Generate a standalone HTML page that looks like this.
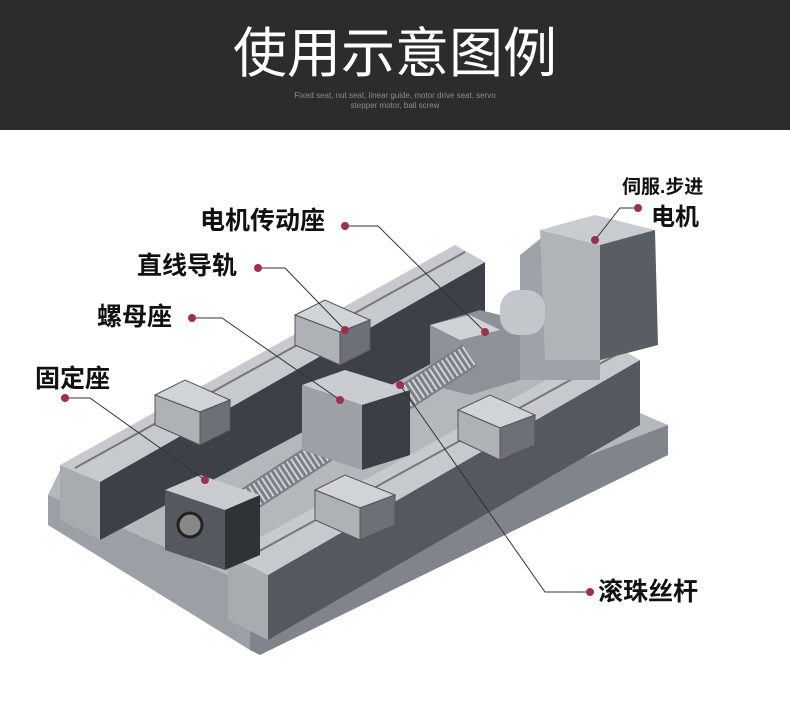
<!DOCTYPE html>
<html><head><meta charset="utf-8"><style>
html,body{margin:0;padding:0;background:#fff;}
body{width:790px;height:708px;position:relative;overflow:hidden;font-family:"Liberation Sans","Noto Sans CJK SC",sans-serif;}
.hdr{position:absolute;left:0;top:0;width:790px;height:130px;background:#2c2c2c;}
.t{position:absolute;left:0;width:790px;text-align:center;color:#fff;font-size:54px;top:22px;line-height:64px;}
.s{position:absolute;left:0;width:790px;text-align:center;color:#8a8a8a;font-size:8px;top:91px;line-height:10px;}
.l{position:absolute;font-weight:bold;color:#111;font-size:25px;line-height:28px;white-space:nowrap;}
</style></head><body>
<div class="hdr"><div class="t">使用示意图例</div><div class="s">Fixed seat, nut seat, linear guide, motor drive seat, servo<br>stepper motor, ball screw</div></div>
<svg width="790" height="708" style="position:absolute;left:0;top:0">
<!-- base -->
<polygon points="48,495 250,585 668,425 668,455 255,640 48,525" fill="#6b6f75"/>
<polygon points="48,495 250,585 250,650 48,525" fill="#9aa0a6"/>
<polygon points="250,585 668,425 668,455 260,655 250,650" fill="#80858b"/>
<polygon points="48,495 250,585 668,425 470,340 60,470" fill="#b4b8bd"/>
<!-- left rail block -->
<polygon points="60,465 100,482 100,540 60,520" fill="#a8acb1"/>
<polygon points="100,482 485,262 485,335 100,540" fill="#3d4147"/>
<polygon points="60,465 100,482 485,262 455,245" fill="#c6cacf"/>
<line x1="75" y1="468" x2="465" y2="252" stroke="#777" stroke-width="2"/>
<!-- right rail block -->
<polygon points="228,555 268,575 268,640 228,620" fill="#a8acb1"/>
<polygon points="268,575 640,360 640,425 268,640" fill="#55595f"/>
<polygon points="228,555 268,575 640,360 612,344" fill="#c6cacf"/>
<line x1="243" y1="560" x2="625" y2="350" stroke="#777" stroke-width="2"/>
<!-- motor -->
<polygon points="520,255 545,235 600,245 600,380 520,380" fill="#9ea3a9"/>
<polygon points="540,230 595,215 655,230 600,245" fill="#c8ccd1"/>
<polygon points="600,245 655,230 658,345 600,360" fill="#5a5e64"/>
<polygon points="540,230 600,245 600,360 545,360" fill="#b0b4b9"/>
<!-- coupling & drive seat -->
<polygon points="430,325 480,310 520,320 520,380 470,395 430,385" fill="#8d9298"/>
<rect x="500" y="290" width="45" height="45" rx="18" fill="#c3c7cc"/>
<polygon points="430,325 470,315 500,330 460,340" fill="#cfd3d7"/>
<!-- screw -->
<line x1="225" y1="515" x2="470" y2="355" stroke="#7c8086" stroke-width="26"/>
<line x1="225" y1="515" x2="470" y2="355" stroke="#d0d3d7" stroke-width="22" stroke-dasharray="2 3"/>
<!-- nut block -->
<polygon points="302,385 345,370 410,390 362,405" fill="#c9cdd2"/>
<polygon points="302,385 362,405 362,470 302,450" fill="#9ca1a7"/>
<polygon points="362,405 410,390 410,455 362,470" fill="#3b3f45"/>
<!-- carriages -->
<g stroke="#555" stroke-width="1">
<polygon points="155,395 185,380 230,400 200,412" fill="#d0d4d8"/>
<polygon points="155,395 200,412 200,445 155,425" fill="#aeb2b7"/>
<polygon points="200,412 230,400 230,430 200,445" fill="#6d7177"/>
<polygon points="295,315 325,300 370,320 340,332" fill="#d0d4d8"/>
<polygon points="295,315 340,332 340,365 295,345" fill="#aeb2b7"/>
<polygon points="340,332 370,320 370,350 340,365" fill="#6d7177"/>
<polygon points="315,490 345,475 395,495 360,508" fill="#d0d4d8"/>
<polygon points="315,490 360,508 360,540 315,520" fill="#aeb2b7"/>
<polygon points="360,508 395,495 395,525 360,540" fill="#6d7177"/>
<polygon points="458,410 490,395 535,415 500,428" fill="#d0d4d8"/>
<polygon points="458,410 500,428 500,460 458,440" fill="#aeb2b7"/>
<polygon points="500,428 535,415 535,445 500,460" fill="#6d7177"/>
</g>
<!-- fixed seat -->
<polygon points="165,490 200,475 260,495 225,510" fill="#c9cdd2"/>
<polygon points="165,490 225,510 225,570 165,550" fill="#55595f"/>
<polygon points="225,510 260,495 260,555 225,570" fill="#2f3338"/>
<circle cx="190" cy="525" r="12" fill="#888" stroke="#222" stroke-width="3"/>
<!-- leaders -->
<g stroke="#333" stroke-width="1" fill="none">
<polyline points="345,226 378,226 485,332"/>
<polyline points="258,268 285,268 345,330"/>
<polyline points="192,318 222,318 340,400"/>
<polyline points="65,398 90,398 205,480"/>
<polyline points="638,208 620,208 595,240"/>
<polyline points="590,592 545,592 400,385"/>
</g>
<g fill="#a03048">
<circle cx="345" cy="226" r="4"/><circle cx="485" cy="332" r="4"/>
<circle cx="258" cy="268" r="4"/><circle cx="345" cy="330" r="4"/>
<circle cx="192" cy="318" r="4"/><circle cx="340" cy="400" r="4"/>
<circle cx="65" cy="398" r="4"/><circle cx="205" cy="480" r="4"/>
<circle cx="638" cy="208" r="4"/><circle cx="595" cy="240" r="4"/>
<circle cx="590" cy="592" r="4"/><circle cx="400" cy="385" r="4"/>
</g>
</svg>
<div class="l" style="left:200px;top:207px">电机传动座</div>
<div class="l" style="left:137px;top:252px">直线导轨</div>
<div class="l" style="left:97px;top:303px">螺母座</div>
<div class="l" style="left:35px;top:365px">固定座</div>
<div class="l" style="left:622px;top:177px;font-size:19px;line-height:22px">伺服.步进</div>
<div class="l" style="left:651px;top:204px;font-size:24px">电机</div>
<div class="l" style="left:598px;top:578px">滚珠丝杆</div>
</body></html>
